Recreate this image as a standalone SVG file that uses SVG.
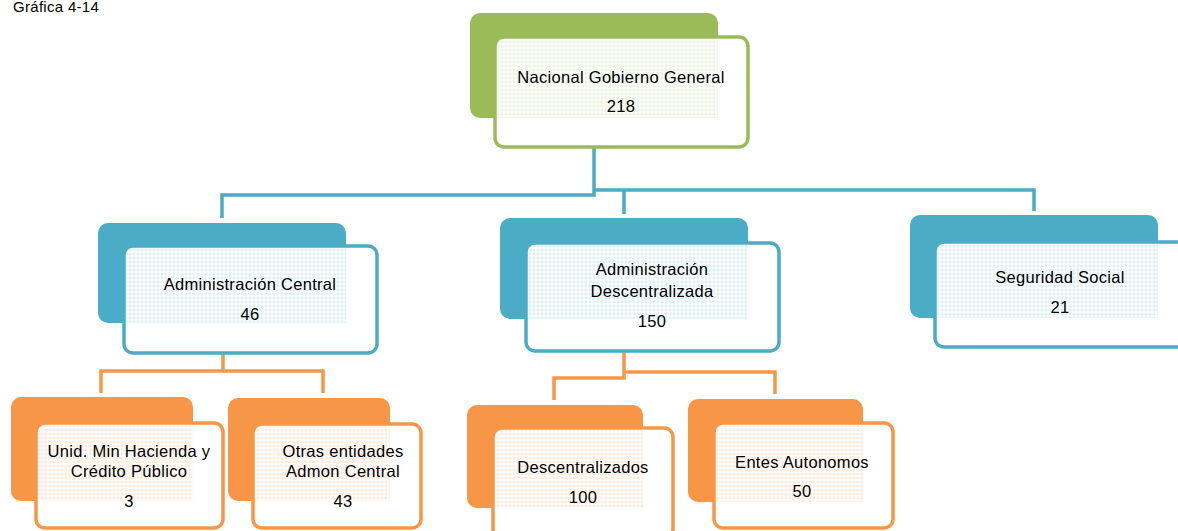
<svg xmlns="http://www.w3.org/2000/svg" width="1178" height="531" viewBox="0 0 1178 531">
<defs>
<pattern id="pg" width="4" height="4" patternUnits="userSpaceOnUse"><circle cx="2" cy="2" r="1.1" fill="none" stroke="#9BBB59" stroke-width="0.6" stroke-opacity="0.35"/></pattern>
<pattern id="pb" width="4" height="4" patternUnits="userSpaceOnUse"><circle cx="2" cy="2" r="1.1" fill="none" stroke="#4BACC6" stroke-width="0.6" stroke-opacity="0.35"/></pattern>
<pattern id="po" width="4" height="4" patternUnits="userSpaceOnUse"><circle cx="2" cy="2" r="1.1" fill="none" stroke="#F79646" stroke-width="0.6" stroke-opacity="0.35"/></pattern>
</defs>
<style>
text{font-family:"Liberation Sans",Arial,sans-serif;font-size:16.5px;fill:#000;text-anchor:middle;letter-spacing:0.3px}
.title{font-size:15px;text-anchor:start;letter-spacing:0.3px}
.back{rx:10px}
.front{fill:#fff;stroke-width:3.5}
.g .back{fill:#9BBB59}.g .front{stroke:#9BBB59}
.b .back{fill:#4BACC6}.b .front{stroke:#4BACC6}
.o .back{fill:#F79646}.o .front{stroke:#F79646}
.cb{fill:none;stroke:#4BACC6;stroke-width:3.5}
.co{fill:none;stroke:#F79646;stroke-width:3.5}
</style>
<text class="title" x="13" y="12">Gráfica 4-14</text>
<g id="connectors">
<path class="cb" d="M594,147 V195 H222 V218"/>
<path class="cb" d="M594,190 H1034 V211"/>
<path class="cb" d="M624,190 V214"/>
<path class="co" d="M223,353 V371 H101 V393"/>
<path class="co" d="M223,371 H323 V393"/>
<path class="co" d="M624,351 V378 H554 V400"/>
<path class="co" d="M624,372 H775 V394"/>
</g>
<g id="n-nacional" class="g">
<rect class="back" x="470" y="13" width="248" height="105"/>
<rect class="front" x="495" y="37" width="253" height="110" rx="9"/>
<rect x="497" y="39" width="221" height="79" fill="url(#pg)"/>
<text x="621" y="83">Nacional Gobierno General</text>
<text x="621" y="112">218</text>
</g>
<g id="n-central" class="b">
<rect class="back" x="98" y="223" width="248" height="100"/>
<rect class="front" x="124" y="246" width="253" height="107" rx="9"/>
<rect x="126" y="248" width="220" height="75" fill="url(#pb)"/>
<text x="250" y="290">Administración Central</text>
<text x="250" y="320">46</text>
</g>
<g id="n-descentralizada" class="b">
<rect class="back" x="500" y="218" width="248" height="101"/>
<rect class="front" x="526" y="243" width="253" height="108" rx="9"/>
<rect x="528" y="245" width="220" height="74" fill="url(#pb)"/>
<text x="652" y="275">Administración</text>
<text x="652" y="297">Descentralizada</text>
<text x="652" y="327">150</text>
</g>
<g id="n-seguridad" class="b">
<rect class="back" x="910" y="215" width="248" height="103"/>
<rect class="front" x="935" y="242" width="260" height="105" rx="9"/>
<rect x="937" y="244" width="221" height="74" fill="url(#pb)"/>
<text x="1060" y="283">Seguridad Social</text>
<text x="1060" y="313">21</text>
</g>
<g id="n-unid" class="o">
<rect class="back" x="11" y="397" width="182" height="104"/>
<rect class="front" x="36" y="423" width="187" height="105" rx="9"/>
<rect x="38" y="425" width="155" height="76" fill="url(#po)"/>
<text x="129" y="457">Unid. Min Hacienda y</text>
<text x="129" y="477">Crédito Público</text>
<text x="129" y="507">3</text>
</g>
<g id="n-otras" class="o">
<rect class="back" x="228" y="398" width="162" height="103"/>
<rect class="front" x="253" y="424" width="168" height="104" rx="9"/>
<rect x="255" y="426" width="135" height="75" fill="url(#po)"/>
<text x="343" y="457">Otras entidades</text>
<text x="343" y="477">Admon Central</text>
<text x="343" y="507">43</text>
</g>
<g id="n-descentralizados" class="o">
<rect class="back" x="467" y="405" width="176" height="103"/>
<rect class="front" x="493" y="428" width="180" height="110" rx="9"/>
<rect x="495" y="430" width="148" height="78" fill="url(#po)"/>
<text x="583" y="473">Descentralizados</text>
<text x="583" y="503">100</text>
</g>
<g id="n-entes" class="o">
<rect class="back" x="688" y="399" width="175" height="103"/>
<rect class="front" x="714" y="423" width="179" height="105" rx="9"/>
<rect x="716" y="425" width="147" height="77" fill="url(#po)"/>
<text x="802" y="468">Entes Autonomos</text>
<text x="802" y="497">50</text>
</g>
</svg>
